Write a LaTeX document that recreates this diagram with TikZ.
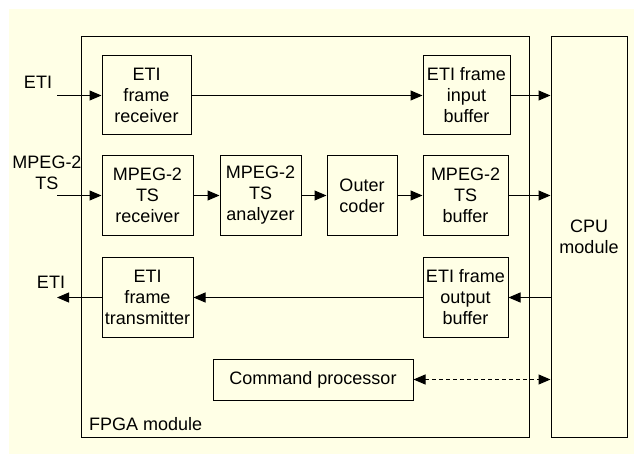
\documentclass[tikz,border=0pt]{standalone}
\usepackage{fontspec}
\setmainfont{Liberation Sans}
\usetikzlibrary{arrows.meta}
\definecolor{cream}{HTML}{FFFFE6}
\begin{document}
\begin{tikzpicture}[x=1pt,y=-1pt,
  every node/.style={font=\fontsize{18}{21}\selectfont},
  blk/.style={draw=black, line width=1pt, fill=cream, align=center, inner sep=0pt},
  link/.style={line width=1pt, -{Triangle[length=12pt,width=10pt]}},
  duplex/.style={line width=1pt, dash pattern=on 4pt off 3pt,
    {Triangle[length=12pt,width=10pt]}-{Triangle[length=12pt,width=10pt]}},
  lbl/.style={align=center, inner sep=0pt}]
  % page and background
  \useasboundingbox (0,0) rectangle (634,454);
  \fill[cream] (9,9) rectangle (634,454);

  % module frames
  \node[blk, minimum width=448pt, minimum height=400pt] (fpga) at (305,237) {};
  \node[blk, minimum width=76pt, minimum height=400pt] (cpu) at (589,237) {CPU\\module};
  \node[lbl, anchor=base west] (fpgalbl) at (89,430) {FPGA module};

  % processing blocks
  \node[blk, minimum width=89pt, minimum height=79pt] (etirx) at (146.5,95.5) {ETI\\frame\\receiver};
  \node[blk, minimum width=87pt, minimum height=79pt] (etiib) at (466.5,95.5) {ETI frame\\input\\buffer};
  \node[blk, minimum width=91pt, minimum height=80pt] (tsrx) at (147.5,195.5) {MPEG-2\\TS\\receiver};
  \node[blk, minimum width=81pt, minimum height=80pt] (tsan) at (260.5,195.5) {MPEG-2\\TS\\analyzer};
  \node[blk, minimum width=70pt, minimum height=80pt] (outer) at (362,195.5) {Outer\\coder};
  \node[blk, minimum width=85pt, minimum height=80pt] (tsbuf) at (465.5,195.5) {MPEG-2\\TS\\buffer};
  \node[blk, minimum width=91pt, minimum height=80pt] (etitx) at (147.5,297.5) {ETI\\frame\\transmitter};
  \node[blk, minimum width=85pt, minimum height=80pt] (etiob) at (465.5,297.5) {ETI frame\\output\\buffer};
  \node[blk, minimum width=200pt, minimum height=41pt] (cmd) at (313,379.5) {Command processor};

  % external signals
  \coordinate (etiin) at (57,95.5);
  \coordinate (tsin) at (57,195.5);
  \coordinate (etiout) at (57,297.5);
  \node[lbl] (etiinlbl) at (38,82) {ETI};
  \node[lbl] (tsinlbl) at (47,173) {MPEG-2\\TS};
  \node[lbl] (etioutlbl) at (51,282) {ETI};

  % data paths
  \draw[link] (etiin) -- (etirx.west);
  \draw[link] (etirx.east) -- (etiib.west);
  \draw[link] (etiib.east) -- (etiib.east -| cpu.west);
  \draw[link] (tsin) -- (tsrx.west);
  \draw[link] (tsrx.east) -- (tsan.west);
  \draw[link] (tsan.east) -- (outer.west);
  \draw[link] (outer.east) -- (tsbuf.west);
  \draw[link] (tsbuf.east) -- (tsbuf.east -| cpu.west);
  \draw[link] (etiob.east -| cpu.west) -- (etiob.east);
  \draw[link] (etiob.west) -- (etitx.east);
  \draw[link] (etitx.west) -- (etiout);
  \draw[duplex] (cmd.east) -- (cmd.east -| cpu.west);
\end{tikzpicture}
\end{document}
